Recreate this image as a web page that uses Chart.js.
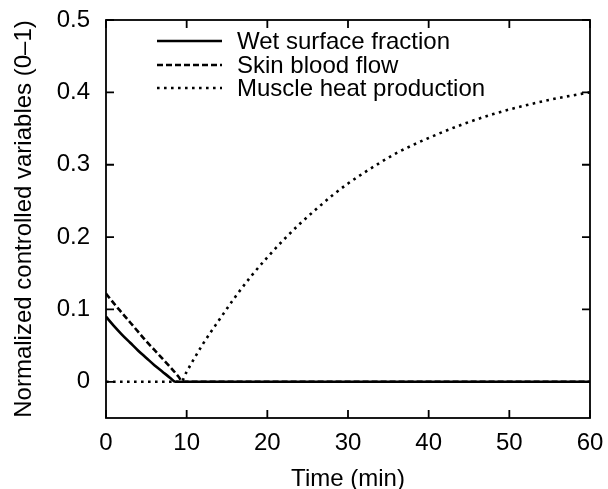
<!DOCTYPE html>
<html>
<head>
<meta charset="utf-8">
<script src="https://cdn.jsdelivr.net/npm/chart.js@4.4.1/dist/chart.umd.min.js"></script>
<style>
  html, body { margin: 0; padding: 0; background: #fff; }
  #wrap { width: 608px; height: 489px; }
</style>
</head>
<body>
<div id="wrap"><canvas id="chart" width="608" height="489"></canvas></div>
<script>
// values
const wetTime = [0, 1, 2, 3, 4, 5, 6, 7, 8, 8.6, 60];
const wetValue = [0.09, 0.077, 0.065, 0.054, 0.043, 0.033, 0.023, 0.014, 0.005, 0, 0];

const skinTime = [0, 1, 2, 3, 4, 5, 6, 7, 8, 9, 9.5, 60];
const skinValue = [0.122, 0.108, 0.095, 0.082, 0.069, 0.056, 0.044, 0.032, 0.02, 0.007, 0, 0];

const muscleTime = [0, 9.3, 10, 12, 14, 16, 18, 20, 22, 24, 26, 28, 30, 32, 34, 36, 38, 40, 44, 48, 52, 56, 60];
const muscleValue = [0, 0, 0.014, 0.052, 0.085, 0.117, 0.146, 0.172, 0.196, 0.218, 0.238, 0.257, 0.274, 0.289, 0.303, 0.316, 0.327, 0.337, 0.355, 0.370, 0.382, 0.392, 0.400];

const seriesNames = ["Wet surface fraction", "Skin blood flow", "Muscle heat production"];
const xTicks = [0, 10, 20, 30, 40, 50, 60];
const yTicks = [0, 0.1, 0.2, 0.3, 0.4, 0.5];

const FONT = "'Liberation Sans', Arial, Helvetica, sans-serif";

function toPoints(xs, ys) {
  return xs.map((x, i) => ({ x: x, y: ys[i] }));
}

function noLabelPadding(scale) {
  scale.paddingTop = 0;
  scale.paddingBottom = 0;
  scale.paddingLeft = 0;
  scale.paddingRight = 0;
}

// frame with inward ticks on all four sides
const frameTicks = {
  id: "frameTicks",
  afterDraw(chart) {
    const ctx = chart.ctx;
    const a = chart.chartArea;
    const xs = chart.scales.x, ys = chart.scales.y;
    const len = 8;
    ctx.save();
    ctx.strokeStyle = "#000";
    ctx.lineWidth = 1.8;
    ctx.strokeRect(a.left, a.top, a.right - a.left, a.bottom - a.top);
    ctx.beginPath();
    xTicks.forEach(v => {
      const px = xs.getPixelForValue(v);
      ctx.moveTo(px, a.bottom); ctx.lineTo(px, a.bottom - len);
      ctx.moveTo(px, a.top); ctx.lineTo(px, a.top + len);
    });
    yTicks.forEach(v => {
      const py = ys.getPixelForValue(v);
      ctx.moveTo(a.left, py); ctx.lineTo(a.left + len, py);
      ctx.moveTo(a.right, py); ctx.lineTo(a.right - len, py);
    });
    ctx.stroke();
    ctx.restore();
  }
};

// legend inside plot, top left
const innerLegend = {
  id: "innerLegend",
  afterDraw(chart) {
    const ctx = chart.ctx;
    const rows = [41, 65, 88];
    ctx.save();
    chart.data.datasets.forEach((ds, i) => {
      const y = rows[i];
      ctx.beginPath();
      ctx.setLineDash(ds.borderDash || []);
      ctx.lineWidth = ds.borderWidth;
      ctx.strokeStyle = ds.borderColor;
      ctx.moveTo(157, y);
      ctx.lineTo(222, y);
      ctx.stroke();
      ctx.setLineDash([]);
      ctx.fillStyle = "#000";
      ctx.font = "24px " + FONT;
      ctx.textBaseline = "middle";
      ctx.textAlign = "left";
      ctx.fillText(ds.label, 237, y + 1);
    });
    ctx.restore();
  }
};

new Chart(document.getElementById("chart"), {
  type: "line",
  data: {
    datasets: [
      {
        label: seriesNames[0],
        data: toPoints(wetTime, wetValue),
        borderColor: "#000",
        borderWidth: 2.6,
        pointRadius: 0,
        cubicInterpolationMode: "monotone"
      },
      {
        label: seriesNames[1],
        data: toPoints(skinTime, skinValue),
        borderColor: "#000",
        borderWidth: 2.6,
        borderDash: [6, 3],
        pointRadius: 0,
        cubicInterpolationMode: "monotone"
      },
      {
        label: seriesNames[2],
        data: toPoints(muscleTime, muscleValue),
        borderColor: "#000",
        borderWidth: 2.6,
        borderDash: [2.6, 4.4],
        pointRadius: 0,
        cubicInterpolationMode: "monotone"
      }
    ]
  },
  options: {
    responsive: false,
    animation: false,
    layout: { padding: { top: 20, right: 18, left: 0, bottom: 0 } },
    plugins: {
      legend: { display: false },
      tooltip: { enabled: false }
    },
    scales: {
      x: {
        type: "linear",
        min: 0,
        max: 60,
        afterFit(scale) { scale.height = 71; noLabelPadding(scale); },
        afterBuildTicks(scale) { scale.ticks = xTicks.map(v => ({ value: v })); },
        grid: { display: false, drawTicks: false },
        border: { display: false },
        ticks: {
          color: "#000",
          padding: 11,
          maxRotation: 0,
          font: { family: FONT, size: 24 }
        },
        title: {
          display: true,
          text: "Time (min)",
          color: "#000",
          padding: 0,
          font: { family: FONT, size: 24, lineHeight: 0.8 }
        }
      },
      y: {
        min: -0.05,
        max: 0.5,
        afterFit(scale) { scale.width = 106; noLabelPadding(scale); },
        afterBuildTicks(scale) { scale.ticks = yTicks.map(v => ({ value: v })); },
        grid: { display: false, drawTicks: false },
        border: { display: false },
        ticks: {
          color: "#000",
          padding: 16,
          font: { family: FONT, size: 24 },
          callback: v => String(Math.round(v * 10) / 10)
        },
        title: {
          display: true,
          text: "Normalized controlled variables (0\u20131)",
          color: "#000",
          padding: { top: 10, bottom: 0 },
          font: { family: FONT, size: 24, lineHeight: 1.2 }
        }
      }
    }
  },
  plugins: [frameTicks, innerLegend]
});
</script>
</body>
</html>
